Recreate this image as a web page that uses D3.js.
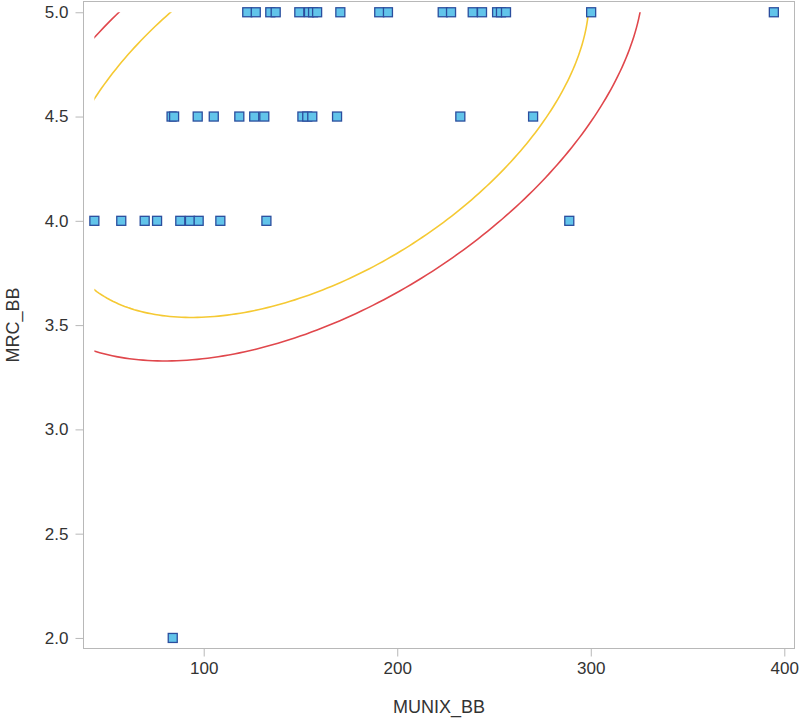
<!DOCTYPE html>
<html>
<head>
<meta charset="utf-8">
<script src="https://cdn.jsdelivr.net/npm/d3@7"></script>
<style>
  body { margin: 0; background: #fff; }
  svg { display: block; font-family: "Liberation Sans", Arial, sans-serif; }
</style>
</head>
<body>
<div id="chart"></div>
<script>
// MUNIX_BB values, one array per MRC_BB level
const mrcLevels = [5.0, 4.5, 4.0, 2.0];
const munixAt50 = [122.5, 126.9, 134.4, 137.2, 149.4, 154.4, 156.5, 158.6, 170.6, 190.7,
                   195.2, 223.5, 227.8, 239.0, 243.8, 251.6, 253.6, 256.2, 300.2, 394.6];
const munixAt45 = [83.4, 84.7, 96.9, 105.2, 118.4, 126.1, 131.3, 151.0, 153.5, 156.1,
                   168.9, 232.6, 270.2];
const munixAt40 = [43.5, 57.4, 69.5, 75.9, 87.9, 92.9, 97.4, 108.6, 132.4, 288.9];
const munixAt20 = [84.0];
const xTicks = [100, 200, 300, 400];
const yTicks = [2.0, 2.5, 3.0, 3.5, 4.0, 4.5, 5.0];
// prediction ellipse coverage (outer red, inner yellow)
const ellipseLevels = [0.885, 0.78];

const munixRows = [munixAt50, munixAt45, munixAt40, munixAt20];
const points = [];
munixRows.forEach((row, i) => {
    row.forEach(v => points.push({ x: v, y: mrcLevels[i] }));
});

const W = 800, H = 719;
const plotLeft = 83, plotRight = 795, plotTop = 1, plotBottom = 649;

const svg = d3.select('#chart')
    .append('svg')
    .attr('width', W)
    .attr('height', H);

const x = d3.scaleLinear()
    .domain([37.63, 405.53])
    .range([plotLeft, plotRight]);

const y = d3.scaleLinear()
    .domain([1.947, 5.054])
    .range([plotBottom, plotTop]);

// frame
svg.append('rect')
    .attr('x', plotLeft + 0.5)
    .attr('y', plotTop + 0.5)
    .attr('width', plotRight - plotLeft - 1)
    .attr('height', plotBottom - plotTop - 1)
    .attr('fill', 'none')
    .attr('stroke', '#b8b8b8')
    .attr('stroke-width', 1);

// axes
const xAxis = svg.append('g')
    .attr('transform', `translate(0,${plotBottom - 0.5})`)
    .call(d3.axisBottom(x).tickValues(xTicks).tickSize(8).tickPadding(5).tickFormat(d3.format('d')));

const yAxis = svg.append('g')
    .attr('transform', `translate(${plotLeft + 0.5},0)`)
    .call(d3.axisLeft(y).tickValues(yTicks).tickSize(8).tickPadding(7).tickFormat(d3.format('.1f')));

[xAxis, yAxis].forEach(g => {
    g.select('.domain').remove();
    g.selectAll('line').attr('stroke', '#b8b8b8');
    g.selectAll('text').attr('fill', '#333').style('font-size', '17px');
});

svg.append('text')
    .attr('x', (plotLeft + plotRight) / 2)
    .attr('y', 713)
    .attr('text-anchor', 'middle')
    .attr('fill', '#333')
    .style('font-size', '18px')
    .text('MUNIX_BB');

svg.append('text')
    .attr('transform', `translate(19,${(plotTop + plotBottom) / 2}) rotate(-90)`)
    .attr('text-anchor', 'middle')
    .attr('fill', '#333')
    .style('font-size', '18px')
    .text('MRC_BB');

// ellipses from the sample mean and covariance, clipped to the data range
const n = points.length;
const mx = d3.mean(points, d => d.x);
const my = d3.mean(points, d => d.y);
const sxx = d3.sum(points, d => (d.x - mx) ** 2) / (n - 1);
const syy = d3.sum(points, d => (d.y - my) ** 2) / (n - 1);
const sxy = d3.sum(points, d => (d.x - mx) * (d.y - my)) / (n - 1);
const ca = Math.sqrt(sxx), cb = sxy / ca, cd = Math.sqrt(syy - cb * cb);

function radius(p) {
    const nu = n - 2;
    const f = (nu / 2) * (Math.pow(1 - p, -2 / nu) - 1);
    return Math.sqrt(2 * (n - 1) * (n + 1) / (n * (n - 2)) * f);
}

const xExt = d3.extent(points, d => d.x);
const yExt = d3.extent(points, d => d.y);
svg.append('clipPath').attr('id', 'dataClip')
    .append('rect')
    .attr('x', x(xExt[0]))
    .attr('y', y(yExt[1]))
    .attr('width', x(xExt[1]) - x(xExt[0]))
    .attr('height', y(yExt[0]) - y(yExt[1]));

const line = d3.line().x(d => x(d[0])).y(d => y(d[1]));
const colors = ['#e0474c', '#f5c933'];

ellipseLevels.forEach((p, i) => {
    const c = radius(p);
    const pts = d3.range(0, 361).map(k => {
        const t = k * Math.PI / 180;
        return [mx + c * ca * Math.cos(t), my + c * (cb * Math.cos(t) + cd * Math.sin(t))];
    });
    svg.append('path')
        .attr('clip-path', 'url(#dataClip)')
        .attr('d', line(pts))
        .attr('fill', 'none')
        .attr('stroke', colors[i])
        .attr('stroke-width', 1.6);
});

// markers
svg.append('g').selectAll('rect')
    .data(points)
    .enter()
    .append('rect')
    .attr('x', d => x(d.x) - 4.5)
    .attr('y', d => y(d.y) - 4.5)
    .attr('width', 9)
    .attr('height', 9)
    .attr('fill', '#62c4ea')
    .attr('stroke', '#2b4e9e')
    .attr('stroke-width', 1.3);
</script>
</body>
</html>
